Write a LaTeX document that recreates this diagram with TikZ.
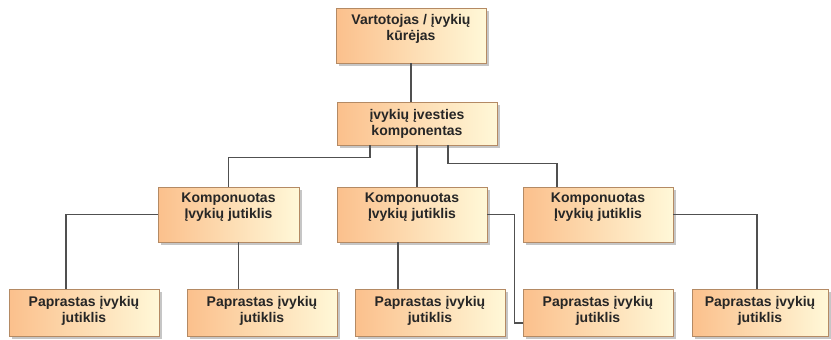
\documentclass[tikz,border=0pt]{standalone}
\usepackage{fontspec}
\newfontfamily\boxfont{Liberation Sans}
\usepackage{tikz}
\usetikzlibrary{positioning, shadows}
\usepackage{xcolor}
\definecolor{boxorange}{HTML}{FBC08C}
\definecolor{boxyellow}{HTML}{FFF8D8}
\definecolor{boxline}{HTML}{B48A64}
\definecolor{wiregray}{HTML}{505050}

\tikzset{
  box/.style={draw=boxline, line width=0.9pt, left color=boxorange, right color=boxyellow,
    drop shadow={shadow xshift=2.5pt, shadow yshift=-2.5pt, opacity=0.45},
    inner sep=0pt, minimum width=150pt},
  txt/.style={font=\boxfont\bfseries\fontsize{14}{16}\selectfont, align=center, inner sep=0pt, text=black!85},
  wire/.style={draw=wiregray, line width=1.2pt},
}

\begin{document}
\begin{tikzpicture}[x=1pt, y=-1pt]
    \useasboundingbox (0,0) rectangle (831,340);
    % virsutinis lygis
    \node[box, minimum height=55pt] (user) at (411,35.5) {};
    \node[txt, below=7pt of user.north] (userT) {Vartotojas / įvykių\\kūrėjas};
    \node[box, minimum width=160pt, minimum height=43pt] (input) at (417,123.5) {};
    \node[txt] (inputT) at (input) {įvykių įvesties\\komponentas};
    % komponuoti jutikliai
    \node[box, minimum width=141pt, minimum height=55pt] (mid1) at (228.5,214.5) {};
    \node[txt, below=6pt of mid1.north] (mid1T) {Komponuotas\\Įvykių jutiklis};
    \node[box, minimum height=55pt] (mid2) at (412,214.5) {};
    \node[txt, below=6pt of mid2.north] (mid2T) {Komponuotas\\Įvykių jutiklis};
    \node[box, minimum height=55pt] (mid3) at (598,214.5) {};
    \node[txt, below=6pt of mid3.north] (mid3T) {Komponuotas\\Įvykių jutiklis};
    % paprasti jutikliai
    \node[box, minimum height=47pt] (simp1) at (84,312.5) {};
    \node[txt, below=8pt of simp1.north] (simp1T) {Paprastas įvykių\\jutiklis};
    \node[box, minimum height=47pt] (simp2) at (262,312.5) {};
    \node[txt, below=8pt of simp2.north] (simp2T) {Paprastas įvykių\\jutiklis};
    \node[box, minimum height=47pt] (simp3) at (430,312.5) {};
    \node[txt, below=8pt of simp3.north] (simp3T) {Paprastas įvykių\\jutiklis};
    \node[box, minimum height=47pt] (simp4) at (598,312.5) {};
    \node[txt, below=8pt of simp4.north] (simp4T) {Paprastas įvykių\\jutiklis};
    \node[box, minimum width=136pt, minimum height=47pt] (simp5) at (760,312.5) {};
    \node[txt, below=8pt of simp5.north] (simp5T) {Paprastas įvykių\\jutiklis};
    % jungtys
    \draw[wire] (user.south) -- (user.south |- input.north);
    \draw[wire] ([xshift=-47pt]input.south) -- ++(0,12) -| (mid1.north);
    \draw[wire] (input.south) -- (input.south |- mid2.north);
    \draw[wire] ([xshift=31pt]input.south) -- ++(0,18) -| ([xshift=-41pt]mid3.north);
    \draw[wire] (mid1.west) -| ([xshift=-18pt]simp1.north);
    \draw[wire] ([xshift=10pt]mid1.south) -- ([xshift=10pt]mid1.south |- simp2.north);
    \draw[wire] ([xshift=-14pt]mid2.south) -- ([xshift=-14pt]mid2.south |- simp3.north);
    \draw[wire] (mid2.east) -- ++(27,0) |- ([yshift=-10.5pt]simp4.west);
    \draw[wire] (mid3.east) -| ([xshift=-3pt]simp5.north);
\end{tikzpicture}
\end{document}
